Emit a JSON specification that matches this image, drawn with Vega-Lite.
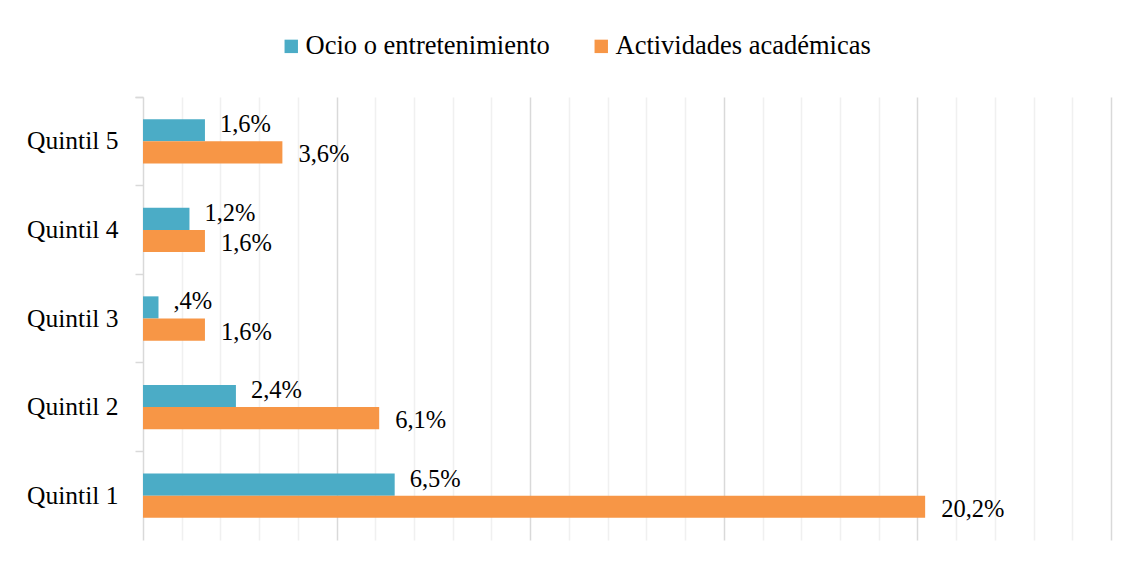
{
  "$schema": "https://vega.github.io/schema/vega-lite/v6.json",
  "autosize": {"type": "none"},
  "width": 968,
  "height": 443,
  "padding": {"left": 143, "top": 97, "right": 22, "bottom": 23},
  "background": "white",
  "config": {
    "font": "Liberation Serif",
    "view": {"stroke": null},
    "axis": {"labelFont": "Liberation Serif", "titleFont": "Liberation Serif"},
    "legend": {"labelFont": "Liberation Serif"}
  },
  "data": {
    "values": [
      {"quintil": "Quintil 5", "serie": "Ocio o entretenimiento", "valor": 1.6, "etiqueta": "1,6%"},
      {"quintil": "Quintil 5", "serie": "Actividades académicas", "valor": 3.6, "etiqueta": "3,6%"},
      {"quintil": "Quintil 4", "serie": "Ocio o entretenimiento", "valor": 1.2, "etiqueta": "1,2%"},
      {"quintil": "Quintil 4", "serie": "Actividades académicas", "valor": 1.6, "etiqueta": "1,6%"},
      {"quintil": "Quintil 3", "serie": "Ocio o entretenimiento", "valor": 0.4, "etiqueta": ",4%"},
      {"quintil": "Quintil 3", "serie": "Actividades académicas", "valor": 1.6, "etiqueta": "1,6%"},
      {"quintil": "Quintil 2", "serie": "Ocio o entretenimiento", "valor": 2.4, "etiqueta": "2,4%"},
      {"quintil": "Quintil 2", "serie": "Actividades académicas", "valor": 6.1, "etiqueta": "6,1%"},
      {"quintil": "Quintil 1", "serie": "Ocio o entretenimiento", "valor": 6.5, "etiqueta": "6,5%"},
      {"quintil": "Quintil 1", "serie": "Actividades académicas", "valor": 20.2, "etiqueta": "20,2%"}
    ]
  },
  "encoding": {
    "y": {
      "field": "quintil",
      "type": "nominal",
      "sort": ["Quintil 5", "Quintil 4", "Quintil 3", "Quintil 2", "Quintil 1"],
      "scale": {"paddingInner": 0, "paddingOuter": 0},
      "axis": {
        "title": null,
        "bandPosition": 0,
        "tickExtra": true,
        "tickSize": 8,
        "tickColor": "#d9d9d9",
        "tickWidth": 1.5,
        "domainColor": "#d9d9d9",
        "domainWidth": 1.5,
        "labelFontSize": 25.5,
        "labelColor": "#000000",
        "labelPadding": 17,
        "labelLimit": 0,
        "grid": false
      }
    },
    "yOffset": {
      "field": "serie",
      "type": "nominal",
      "sort": ["Ocio o entretenimiento", "Actividades académicas"],
      "scale": {"paddingInner": 0, "paddingOuter": 1.33}
    },
    "x": {
      "field": "valor",
      "type": "quantitative",
      "scale": {"domain": [0, 25], "nice": false},
      "axis": {
        "title": null,
        "labels": false,
        "ticks": false,
        "domain": false,
        "values": [1,2,3,4,5,6,7,8,9,10,11,12,13,14,15,16,17,18,19,20,21,22,23,24,25],
        "grid": true,
        "gridWidth": 1.5,
        "gridColor": {"condition": {"test": "datum.value % 5 === 0", "value": "#d9d9d9"}, "value": "#f0f0f0"}
      }
    }
  },
  "layer": [
    {
      "mark": {"type": "bar"},
      "encoding": {
        "color": {
          "field": "serie",
          "type": "nominal",
          "sort": ["Ocio o entretenimiento", "Actividades académicas"],
          "scale": {"domain": ["Ocio o entretenimiento", "Actividades académicas"], "range": ["#4BACC6", "#F79646"]},
          "legend": {
            "title": null,
            "orient": "none",
            "direction": "horizontal",
            "legendX": 135,
            "legendY": -64,
            "symbolType": "square",
            "symbolSize": 180,
            "symbolStrokeWidth": 0,
            "labelFontSize": 26.5,
            "labelColor": "#000000",
            "labelLimit": 0,
            "labelOffset": 1,
            "columnPadding": 38,
            "padding": 0
          }
        }
      }
    },
    {
      "transform": [{"filter": "datum.serie === 'Ocio o entretenimiento'"}],
      "mark": {"type": "text", "align": "left", "baseline": "middle", "dx": 15, "dy": -5, "fontSize": 24.5, "color": "#000000"},
      "encoding": {
        "text": {"field": "etiqueta"}
      }
    },
    {
      "transform": [{"filter": "datum.serie === 'Actividades académicas'"}],
      "mark": {"type": "text", "align": "left", "baseline": "middle", "dx": 16, "dy": 3, "fontSize": 24.5, "color": "#000000"},
      "encoding": {
        "text": {"field": "etiqueta"}
      }
    }
  ]
}
